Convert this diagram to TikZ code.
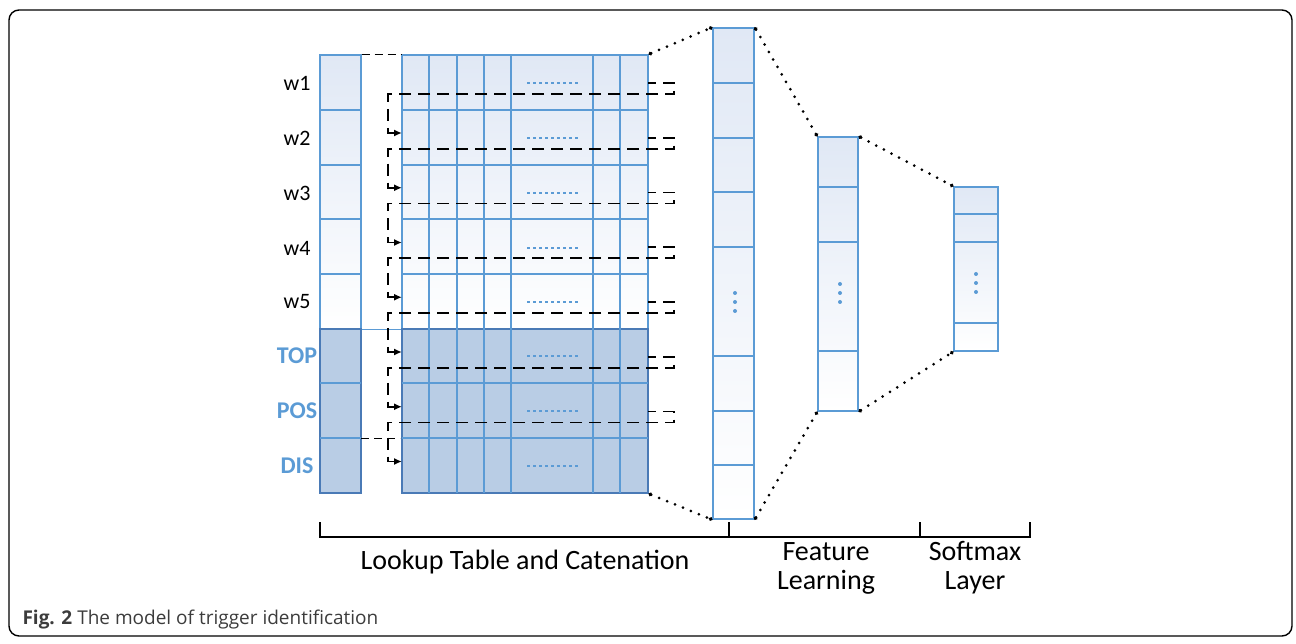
\documentclass[tikz,border=0pt]{standalone}
\usepackage{fontspec}
\setmainfont{Carlito}
\newfontfamily\capfont{Open Sans}
\usetikzlibrary{arrows.meta,positioning}

\definecolor{cellblue}{RGB}{91,155,213}
\definecolor{darkline}{RGB}{74,122,182}
\definecolor{darkcell}{RGB}{185,205,229}
\definecolor{lightcell}{RGB}{224,232,245}
\definecolor{capgray}{RGB}{60,60,60}

\tikzset{
	lightbox/.style={draw=cellblue, line width=1.4pt, top color=lightcell, bottom color=white, inner sep=0pt},
	darkbox/.style={draw=darkline, line width=1.4pt, fill=darkcell, inner sep=0pt},
	cellline/.style={draw=cellblue, line width=1.2pt},
	hdots/.style={draw=cellblue, line width=2.4pt, dash pattern=on 3pt off 3pt},
	vdot/.style={fill=cellblue},
	dotline/.style={line width=3pt, dash pattern=on 0pt off 8.6pt, line cap=round, {Circle[length=3.5pt]}-{Circle[length=3.5pt]}},
	looparrow/.style={line width=1.9pt, dash pattern=on 12pt off 7pt, dash phase=4pt, -{Latex[length=8pt,width=7pt]}},
	thindash/.style={line width=1pt, dash pattern=on 8pt off 5pt},
	wlabel/.style={font=\fontsize{22}{26}\selectfont},
	flabel/.style={font=\fontsize{24}{28}\selectfont\bfseries, text=cellblue},
	partlabel/.style={font=\fontsize{28}{29}\selectfont, align=center, inner sep=1pt}
}

\begin{document}
\begin{tikzpicture}[x=1pt, y=-1pt]
	\useasboundingbox (0,0) rectangle (1296,644);
	\draw[line width=1.4pt, rounded corners=10pt] (9,10) rectangle (1292,636);
	
	% lookup column and catenation matrix
	\node[lightbox, minimum width=41, minimum height=274] (wcol) at (340.5,192) {};
	\node[darkbox, minimum width=41, minimum height=164] (fcol) at (340.5,411) {};
	\node[lightbox, minimum width=246, minimum height=274] (mlight) at (525,192) {};
	\node[darkbox, minimum width=246, minimum height=164] (mdark) at (525,411) {};
	
	\foreach \y in {110,165,219,274,383,438}
		\draw[cellline] (320,\y) -- (361,\y);
	\foreach \y in {110,165,219,274,383,438}
		\draw[cellline] (402,\y) -- (648,\y);
	\foreach \x in {429,457,484,511,593,620}
		\draw[cellline] (\x,55) -- (\x,493);
	\draw[cellline] (wcol.south east) -- (mlight.south west);
	
	\foreach \y/\t in {83/w1,138/w2,193/w3,248/w4,302/w5}
		\node[wlabel] (\t) at (297,\y) {\t};
	\foreach \y/\t in {356/TOP,411/POS,466/DIS}
		\node[flabel] (\t) at (297,\y) {\t};
	
	\foreach \y in {83,138,193,248,302,356,411,466}
		\draw[hdots] (527,\y) -- (579,\y);
	
	\coordinate (dtop) at (361,438);
	\coordinate (dend) at (400,438);
	\draw[thindash] (wcol.north east) -- (mlight.north west);
	\draw[thindash] (dtop) -- (dend);
	
	% shift of each row to the next one
	\foreach \i in {0,...,6}{
		\pgfmathsetmacro{\yc}{83+54.75*\i}
		\coordinate (r\i) at (648,\yc);
		\coordinate (l\i) at (402,\yc+50);
		\draw[looparrow] (r\i) -| (674,\yc+11) -| (388,\yc+50) -- (l\i);
	}
	
	% feature learning columns
	\node[lightbox, minimum width=41, minimum height=491] (feat) at (733.5,273.5) {};
	\foreach \y in {83,138,192,247,356,411,465}
		\draw[cellline] (713,\y) -- (754,\y);
	\node[lightbox, minimum width=40, minimum height=274] (hid) at (838,274) {};
	\foreach \y in {187,242,351}
		\draw[cellline] (818,\y) -- (858,\y);
	\node[lightbox, minimum width=44, minimum height=164] (soft) at (976,269) {};
	\foreach \y in {214,242,323}
		\draw[cellline] (954,\y) -- (998,\y);
	
	\foreach \y in {293,302,311}
		\fill[vdot] (735,\y) circle (2);
	\foreach \y in {284,293,302}
		\fill[vdot] (840,\y) circle (2);
	\foreach \y in {274,283,292}
		\fill[vdot] (976,\y) circle (2);
	
	\draw[dotline] (mlight.north east) -- (feat.north west);
	\draw[dotline] (mdark.south east) -- (feat.south west);
	\draw[dotline] (feat.north east) -- (hid.north west);
	\draw[dotline] (feat.south east) -- (hid.south west);
	\draw[dotline] (hid.north east) -- (soft.north west);
	\draw[dotline] (hid.south east) -- (soft.south west);
	
	% parts of the model
	\draw[line width=1.5pt] (320,522) -- (320,537) -- (1030,537) -- (1030,522);
	\draw[line width=1.5pt] (729,522) -- (729,537);
	\draw[line width=1.5pt] (920,522) -- (920,537);
	\node[partlabel] (lookup) at (525,562) {Lookup Table and Catenation};
	\node[partlabel] (featlab) at (826,568) {Feature\\Learning};
	\node[partlabel] (softlab) at (975,568) {Softmax\\Layer};
	
	\node[anchor=west, text=capgray, font=\capfont\fontsize{19}{22}\selectfont] (caption) at (19,620) {\textbf{Fig. 2} The model of trigger identification};
\end{tikzpicture}
\end{document}
